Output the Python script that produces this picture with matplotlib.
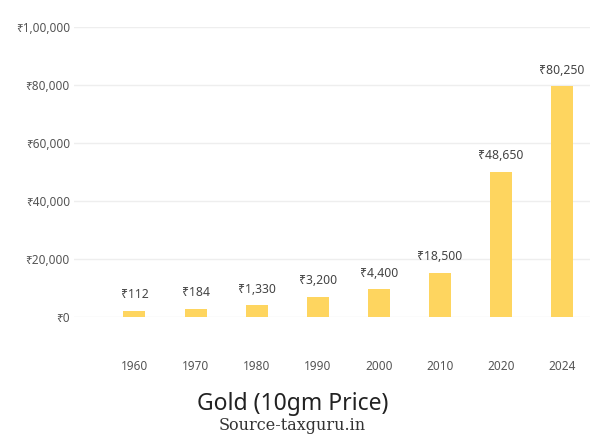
import matplotlib.pyplot as plt

years = ["1960", "1970", "1980", "1990", "2000", "2010", "2020", "2024"]
# bar heights as drawn in the picture
heights = [2000, 2800, 4000, 7000, 9500, 15200, 50000, 79500]
# printed price labels
price_labels = ["₹112", "₹184", "₹1,330", "₹3,200", "₹4,400", "₹18,500", "₹48,650", "₹80,250"]
y_ticks = [0, 20000, 40000, 60000, 80000, 100000]
y_tick_labels = ["₹0", "₹20,000", "₹40,000", "₹60,000", "₹80,000", "₹1,00,000"]

fonts = ["Noto Sans", "DejaVu Sans"]

fig = plt.figure(figsize=(6.03, 4.46), dpi=100)
ax = fig.add_axes([74 / 603, 1 - 317 / 446, (590 - 74) / 603, (317 - 27) / 446])

x = range(len(years))
bars = ax.bar(x, heights, width=0.36, color="#FED55F", zorder=3)

for b, lab in zip(bars, price_labels):
    ax.annotate(lab, (b.get_x() + b.get_width() / 2, b.get_height()),
                xytext=(0, 7), textcoords="offset points", ha="center", va="bottom",
                fontsize=8.8, color="#444444", family=fonts)

ax.set_xlim(-0.99, 7.46)
ax.set_ylim(0, 100000)
ax.set_yticks(y_ticks)
ax.set_yticklabels(y_tick_labels, family=fonts, fontsize=8.5, color="#555555")
ax.set_xticks(list(x))
ax.set_xticklabels(years, family=fonts, fontsize=8.5, color="#555555")
ax.tick_params(axis="x", length=0, pad=31)
ax.tick_params(axis="y", length=0, pad=3)

ax.grid(axis="y", color="#eeeeee", linewidth=1, zorder=0)
for s in ax.spines.values():
    s.set_visible(False)

fig.text(293 / 603, 1 - 404 / 446, "Gold (10gm Price)", ha="center", va="center",
         fontsize=16.5, color="#222222", family=fonts, weight="medium")
fig.text(292 / 603, 1 - 426 / 446, "Source-taxguru.in", ha="center", va="center",
         fontsize=11.5, color="#333333", family="DejaVu Serif")

fig.savefig("out.png", dpi=100, facecolor="white")
